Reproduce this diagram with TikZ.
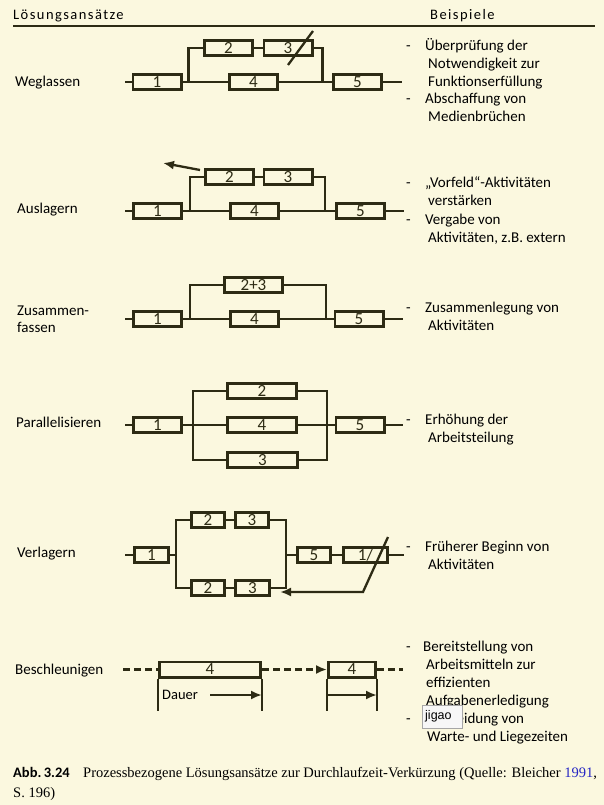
\documentclass[tikz,border=0pt]{standalone}
\usepackage{fontspec}
\setmainfont{Carlito}
\newfontfamily\capfont{Liberation Serif}
\newfontfamily\tagfont{Liberation Sans}
\newfontfamily\headfont[LetterSpace=10]{Carlito}
\usetikzlibrary{arrows.meta, positioning}
\definecolor{paper}{HTML}{FBF8DF}
\definecolor{ink}{HTML}{2D2B14}
\definecolor{linkblue}{HTML}{2626C4}

\begin{document}
\begin{tikzpicture}[x=1pt, y=-1pt,
    act/.style={rectangle, draw=ink, line width=2.8pt, minimum width=48.2pt, minimum height=15.2pt, inner sep=0pt, font=\fontsize{17}{17}\selectfont, text=ink},
    flow/.style={draw=ink, line width=2.3pt},
    rowname/.style={anchor=base west, align=left, inner sep=0pt, font=\fontsize{15}{17}\selectfont},
    hint/.style={anchor=base west, align=left, inner sep=0pt, font=\fontsize{15}{18}\selectfont},
    tip/.style={-{Latex[length=11pt, width=9pt]}},
]
\fill[paper] (0,0) rectangle (604,805);
\useasboundingbox (0,0) rectangle (604,805);

% header
\node[anchor=base west, inner sep=0pt, font=\headfont\fontsize{14.5}{14.5}\selectfont] (hsol) at (13,20) {Lösungsansätze};
\node[anchor=base west, inner sep=0pt, font=\headfont\fontsize{14.5}{14.5}\selectfont] (hbsp) at (430,20) {Beispiele};
\draw[ink, line width=2.5pt] (13,26) -- (595,26);

% Weglassen
\node[rowname] (rweg) at (15,86.5) {Weglassen};
\node[act] (w1) at (157,82) {1};
\node[act] (w2) at (228.5,48) {2};
\node[act] (w3) at (288,48) {3};
\node[act] (w4) at (253.5,82) {4};
\node[act] (w5) at (357.5,82) {5};
\coordinate (w0) at (125,82);
\coordinate (wl) at (188.5,82);
\coordinate (wr) at (322.5,82);
\coordinate (w9) at (402,82);
\draw[flow] (w0) -- (w1) -- (w4) -- (w5) -- (w9);
\draw[flow] (wl) |- (w2);
\draw[flow] (w2) -- (w3);
\draw[flow] (w3) -| (wr);
\draw[ink, line width=2.3pt] (288,65) -- (313,31);
\node[hint] (dw1) at (406,50.5) {-};
\node[hint] (tw1) at (425,86.5) {Überprüfung der\\\hspace*{3pt}Notwendigkeit zur\\\hspace*{3pt}Funktionserfüllung};
\node[hint] (dw2) at (406,103.5) {-};
\node[hint] (tw2) at (425,121.5) {Abschaffung von\\\hspace*{3pt}Medienbrüchen};

% Auslagern
\node[rowname] (raus) at (17,213.5) {Auslagern};
\node[act] (a1) at (157.5,211) {1};
\node[act] (a2) at (229.5,177) {2};
\node[act] (a3) at (288,177) {3};
\node[act] (a4) at (254.5,211) {4};
\node[act] (a5) at (360.5,211) {5};
\coordinate (a0) at (125,211);
\coordinate (al) at (190,211);
\coordinate (ar) at (325,211);
\coordinate (a9) at (404,211);
\coordinate (aout) at (163,163);
\draw[flow] (a0) -- (a1) -- (a4) -- (a5) -- (a9);
\draw[flow] (al) |- (a2);
\draw[flow] (a2) -- (a3);
\draw[flow] (a3) -| (ar);
\draw[flow, tip] (200,170) -- (aout);
\node[hint] (da1) at (406,187.5) {-};
\node[hint] (ta1) at (425,205.5) {„Vorfeld“-Aktivitäten\\\hspace*{3pt}verstärken};
\node[hint] (da2) at (406,224.5) {-};
\node[hint] (ta2) at (425,242.5) {Vergabe von\\\hspace*{3pt}Aktivitäten, z.B. extern};

% Zusammenfassen
\node[rowname] (rzus) at (17,332.5) {Zusammen-\\fassen};
\node[act] (z1) at (157.5,319) {1};
\node[act, minimum width=58.6pt] (z23) at (253.5,285) {2+3};
\node[act] (z4) at (254.5,319) {4};
\node[act] (z5) at (359,319) {5};
\coordinate (z0) at (125,319);
\coordinate (zl) at (190,319);
\coordinate (zr) at (326,319);
\coordinate (z9) at (403,319);
\draw[flow] (z0) -- (z1) -- (z4) -- (z5) -- (z9);
\draw[flow] (zl) |- (z23);
\draw[flow] (z23) -| (zr);
\node[hint] (dz1) at (406,312.5) {-};
\node[hint] (tz1) at (425,330.5) {Zusammenlegung von\\\hspace*{3pt}Aktivitäten};

% Parallelisieren
\node[rowname] (rpar) at (16,427.5) {Parallelisieren};
\node[act] (p1) at (157.5,425) {1};
\node[act, minimum width=69.6pt] (p2) at (262,391) {2};
\node[act, minimum width=69.6pt] (p4) at (262,425) {4};
\node[act, minimum width=70.2pt] (p3) at (262.5,460) {3};
\node[act] (p5) at (360,425) {5};
\coordinate (p0) at (125,425);
\coordinate (pl) at (193,425);
\coordinate (pr) at (327,425);
\coordinate (p9) at (403,425);
\draw[flow] (p0) -- (p1) -- (p4) -- (p5) -- (p9);
\draw[flow] (p2) -| (pl) |- (p3);
\draw[flow] (p2) -| (pr) |- (p3);
\node[hint] (dp1) at (406,424.5) {-};
\node[hint] (tp1) at (425,442) {Erhöhung der\\\hspace*{3pt}Arbeitsteilung};

% Verlagern
\node[rowname] (rver) at (17,557.5) {Verlagern};
\node[act, minimum width=34.2pt] (v1) at (151.5,555) {1};
\node[act, minimum width=33.6pt] (v2) at (208,520) {2};
\node[act, minimum width=33.6pt] (v3) at (252,520) {3};
\node[act, minimum width=33.6pt] (v2b) at (208,588) {2};
\node[act, minimum width=33.6pt] (v3b) at (252.5,588) {3};
\node[act, minimum width=33.6pt] (v5) at (314,555) {5};
\node[act, minimum width=44.2pt] (v6) at (365.5,555) {1/};
\coordinate (v0) at (125,555);
\coordinate (vl) at (176,555);
\coordinate (vr) at (286,555);
\coordinate (v9) at (404,555);
\coordinate (vk) at (363,592);
\coordinate (vback) at (280,592);
\draw[flow] (v0) -- (v1) -- (vl);
\draw[flow] (v2) -| (vl) |- (v2b);
\draw[flow] (v2) -- (v3);
\draw[flow] (v2b) -- (v3b);
\draw[flow] (v3) -| (vr) |- (v3b);
\draw[flow] (vr) -- (v5) -- (v6) -- (v9);
\draw[flow, tip] (388,537) -- (vk) -- (vback);
\node[hint] (dv1) at (406,551.5) {-};
\node[hint] (tv1) at (425,569.5) {Früherer Beginn von\\\hspace*{3pt}Aktivitäten};

% Beschleunigen
\node[rowname] (rbes) at (15,674.5) {Beschleunigen};
\node[act, minimum width=101.2pt] (b4) at (210,669.5) {4};
\node[act, minimum width=47.2pt] (g4) at (352,669.5) {4};
\coordinate (bl) at (123,669.5);
\coordinate (br) at (403,669.5);
\coordinate (bbot) at (0,711);
\coordinate (bar) at (0,695);
\draw[flow, dash pattern=on 7pt off 4pt] (bl) -- (b4);
\draw[flow, dash pattern=on 7pt off 4pt, tip] (b4) -- (g4);
\draw[flow, dash pattern=on 7pt off 4pt] (g4) -- (br);
\draw[flow] (b4.south west) -- (b4.south west |- bbot);
\draw[flow] (b4.south east) -- (b4.south east |- bbot);
\draw[flow] (g4.south west) -- (g4.south west |- bbot);
\draw[flow] (g4.south east) -- (g4.south east |- bbot);
\node[anchor=west, inner sep=0pt, font=\fontsize{14.5}{14.5}\selectfont] (dauer) at (162,695) {Dauer};
\draw[flow, tip] (210,695) -- (b4.east |- bar);
\draw[flow, tip] (g4.west |- bar) -- (g4.east |- bar);
\node[hint] (db1) at (406,651.5) {-};
\node[hint] (tb1) at (423,705.5) {Bereitstellung von\\\hspace*{3pt}Arbeitsmitteln zur\\\hspace*{3pt}effizienten\\\hspace*{3pt}Aufgabenerledigung};
\node[hint] (db2) at (406,723.5) {-};
\node[hint] (tb2) at (424,741.5) {Vermeidung von\\\hspace*{3pt}Warte- und Liegezeiten};
\node[anchor=north west, draw=gray!70, fill=gray!6, minimum width=40pt, minimum height=23pt, text width=34pt, inner xsep=3pt, align=left, font=\tagfont\fontsize{12.5}{12.5}\selectfont] (jig) at (422,705) {jigao};

% caption
\node[anchor=base west, inner sep=0pt, font=\bfseries\fontsize{14.5}{14.5}\selectfont] (capnum) at (13,777) {Abb.\,3.24};
\node[anchor=base west, inner sep=0pt, font=\capfont\fontsize{14.5}{14.5}\selectfont] (captxt) at (83,777) {Prozessbezogene Lösungsansätze zur Durchlaufzeit-Verkürzung (Quelle: Bleicher \textcolor{linkblue}{1991},};
\node[anchor=base west, inner sep=0pt, font=\capfont\fontsize{14.5}{14.5}\selectfont] (capcont) at (13,797) {S. 196)};
\end{tikzpicture}
\end{document}
